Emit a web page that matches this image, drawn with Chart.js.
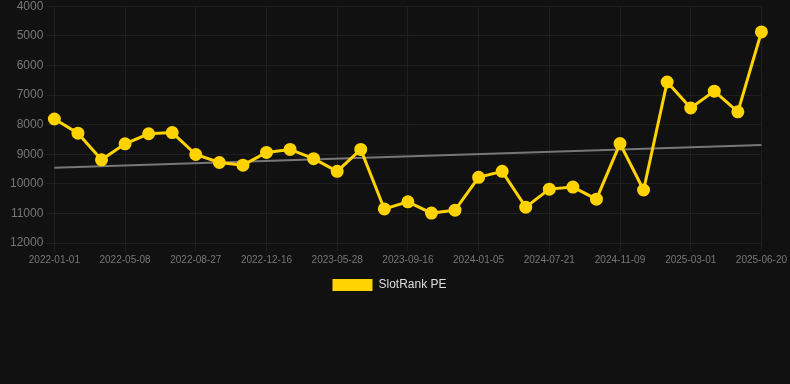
<!DOCTYPE html>
<html><head><meta charset="utf-8">
<script src="https://cdn.jsdelivr.net/npm/chart.js@4"></script>
<style>
html,body{margin:0;padding:0;background:#111111;overflow:hidden;}
#wrap{position:relative;width:790px;height:305px;margin-top:-4px;}
</style></head>
<body><div id="wrap"><canvas id="c"></canvas></div>
<script>
const categories = ["2022-01-01","2022-02-12","2022-03-26","2022-05-08","2022-06-13","2022-07-20","2022-08-27","2022-10-02","2022-11-09","2022-12-16","2023-02-08","2023-04-03","2023-05-28","2023-07-04","2023-08-10","2023-09-16","2023-10-26","2023-11-25","2024-01-05","2024-03-10","2024-05-15","2024-07-21","2024-08-30","2024-10-01","2024-11-09","2024-12-20","2025-01-29","2025-03-01","2025-04-08","2025-05-14","2025-06-20"];
const slotRankPE = [7810,8290,9190,8650,8310,8270,9010,9280,9370,8940,8840,9150,9580,8840,10850,10610,10990,10890,9780,9580,10790,10180,10110,10520,8640,10210,6560,7440,6870,7570,4870];
const trendStart = 9460;
const trendEnd = 8690;
const yTicks = [4000,5000,6000,7000,8000,9000,10000,11000,12000];

new Chart(document.getElementById('c'), {
  type: 'line',
  data: {
    labels: categories,
    datasets: [
      {label:'SlotRank PE', data: slotRankPE, borderColor:'#FFD300', backgroundColor:'#FFD300',
       borderWidth:3, pointRadius:5, pointHoverRadius:5, tension:0, order:1},
      {label:'Trend', data:[{x:categories[0],y:trendStart},{x:categories[categories.length-1],y:trendEnd}],
       borderColor:'#777777', backgroundColor:'#777777', borderWidth:2, pointRadius:0, tension:0, order:2}
    ]
  },
  options: {
    responsive:true, maintainAspectRatio:false, animation:false,
    layout:{padding:{left:7,right:18,top:0,bottom:0}},
    plugins:{
      legend:{position:'bottom', labels:{color:'#dddddd', font:{family:'Arial, Liberation Sans', size:12}, boxWidth:40, boxHeight:12,
        filter:(item)=>item.text!=='Trend',
        generateLabels:(chart)=>Chart.defaults.plugins.legend.labels.generateLabels(chart).map(l=>Object.assign(l,{lineWidth:0}))}},
      tooltip:{enabled:false}
    },
    scales:{
      x:{ticks:{color:'#777777', font:{family:'Arial, Liberation Sans', size:10}, maxRotation:0, autoSkip:true, maxTicksLimit:11},
         grid:{color:'#1f1f1f'}, border:{color:'#1f1f1f'}},
      y:{reverse:true, min:4000, max:12000,
         afterBuildTicks:(ax)=>{ax.ticks = yTicks.map(v=>({value:v}));},
         ticks:{color:'#777777', font:{family:'Arial, Liberation Sans', size:12}, callback:(v)=>String(v)},
         grid:{color:'#1f1f1f'}, border:{color:'#1f1f1f'}}
    }
  }
});
</script></body></html>
